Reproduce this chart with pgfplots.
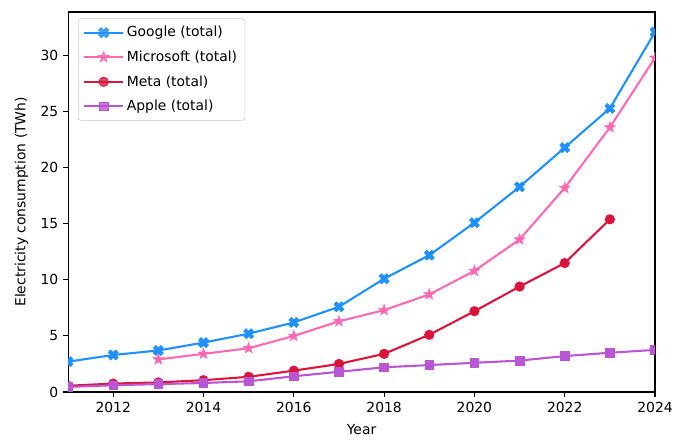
\documentclass[border=0pt]{standalone}
\usepackage{fontspec}
\setmainfont{DejaVu Sans}
\usepackage{pgfplots}
\pgfplotsset{compat=1.18}
\definecolor{cgoogle}{RGB}{30,144,255}
\definecolor{cms}{RGB}{255,105,180}
\definecolor{cmeta}{RGB}{220,20,60}
\definecolor{capple}{RGB}{186,85,211}

% filled X marker (like matplotlib 'X')
\pgfdeclareplotmark{fx}{%
  \pgftransformrotate{45}%
  \pgfpathmoveto{\pgfpoint{0.33\pgfplotmarksize}{\pgfplotmarksize}}%
  \pgfpathlineto{\pgfpoint{0.33\pgfplotmarksize}{0.33\pgfplotmarksize}}%
  \pgfpathlineto{\pgfpoint{\pgfplotmarksize}{0.33\pgfplotmarksize}}%
  \pgfpathlineto{\pgfpoint{\pgfplotmarksize}{-0.33\pgfplotmarksize}}%
  \pgfpathlineto{\pgfpoint{0.33\pgfplotmarksize}{-0.33\pgfplotmarksize}}%
  \pgfpathlineto{\pgfpoint{0.33\pgfplotmarksize}{-\pgfplotmarksize}}%
  \pgfpathlineto{\pgfpoint{-0.33\pgfplotmarksize}{-\pgfplotmarksize}}%
  \pgfpathlineto{\pgfpoint{-0.33\pgfplotmarksize}{-0.33\pgfplotmarksize}}%
  \pgfpathlineto{\pgfpoint{-\pgfplotmarksize}{-0.33\pgfplotmarksize}}%
  \pgfpathlineto{\pgfpoint{-\pgfplotmarksize}{0.33\pgfplotmarksize}}%
  \pgfpathlineto{\pgfpoint{-0.33\pgfplotmarksize}{0.33\pgfplotmarksize}}%
  \pgfpathlineto{\pgfpoint{-0.33\pgfplotmarksize}{\pgfplotmarksize}}%
  \pgfpathclose
  \pgfusepathqfillstroke}
% filled five-point star
\pgfdeclareplotmark{fstar}{%
  \pgfpathmoveto{\pgfpointpolar{90}{\pgfplotmarksize}}%
  \pgfpathlineto{\pgfpointpolar{126}{0.4\pgfplotmarksize}}%
  \pgfpathlineto{\pgfpointpolar{162}{\pgfplotmarksize}}%
  \pgfpathlineto{\pgfpointpolar{198}{0.4\pgfplotmarksize}}%
  \pgfpathlineto{\pgfpointpolar{234}{\pgfplotmarksize}}%
  \pgfpathlineto{\pgfpointpolar{270}{0.4\pgfplotmarksize}}%
  \pgfpathlineto{\pgfpointpolar{306}{\pgfplotmarksize}}%
  \pgfpathlineto{\pgfpointpolar{342}{0.4\pgfplotmarksize}}%
  \pgfpathlineto{\pgfpointpolar{18}{\pgfplotmarksize}}%
  \pgfpathlineto{\pgfpointpolar{54}{0.4\pgfplotmarksize}}%
  \pgfpathclose
  \pgfusepathqfillstroke}

\begin{document}
\begin{tikzpicture}
\begin{axis}[scale only axis, width=422.6pt, height=273.6pt,
  xmin=2011, xmax=2024, ymin=0, ymax=33.9,
  xtick={2012,2014,...,2024}, ytick={0,5,...,30},
  x tick label style={/pgf/number format/1000 sep=},
  /pgf/number format/assume math mode=true,
  tick align=outside, tick pos=left, major tick length=3.5pt,
  tick style={black, line width=0.8pt},
  axis line style={line width=0.8pt},
  xlabel={Year}, ylabel={Electricity consumption (TWh)},
  xlabel style={yshift=-2pt}, ylabel style={yshift=2pt},
  every axis plot/.append style={line width=1.5pt, mark size=3.4pt},
  clip marker paths=true,
  legend cell align=left,
  legend image code/.code={\draw[mark repeat=2,mark phase=2,#1]
    plot coordinates {(0pt,0pt) (14pt,0pt) (28pt,0pt)};},
  legend style={at={(0.017,0.983)}, anchor=north west,
    draw=black!20, rounded corners=2pt, fill=white, fill opacity=0.8,
    text opacity=1, row sep=4.6pt, inner sep=3.5pt,
    font=\fontsize{10pt}{12pt}\selectfont},
  font=\fontsize{10pt}{12pt}\selectfont]
\addplot[cgoogle, mark=fx, mark options={line width=0.5pt}, mark size=3.8pt] coordinates {
  (2011,2.7) (2012,3.3) (2013,3.7) (2014,4.4) (2015,5.2) (2016,6.2) (2017,7.6)
  (2018,10.1) (2019,12.2) (2020,15.1) (2021,18.3) (2022,21.8) (2023,25.3) (2024,32.1)};
\addlegendentry{Google (total)}
\addplot[cms, mark=fstar, mark options={line width=0.5pt}, mark size=4pt] coordinates {
  (2013,2.9) (2014,3.4) (2015,3.9) (2016,5.0) (2017,6.3) (2018,7.3) (2019,8.7)
  (2020,10.8) (2021,13.6) (2022,18.2) (2023,23.6) (2024,29.8)};
\addlegendentry{Microsoft (total)}
\addplot[cmeta, mark=*, mark options={line width=0.5pt}] coordinates {
  (2011,0.55) (2012,0.75) (2013,0.85) (2014,1.05) (2015,1.35) (2016,1.9) (2017,2.5)
  (2018,3.4) (2019,5.1) (2020,7.2) (2021,9.4) (2022,11.5) (2023,15.4)};
\addlegendentry{Meta (total)}
\addplot[capple, mark=square*, mark options={line width=0.5pt}, mark size=3.1pt] coordinates {
  (2011,0.45) (2012,0.6) (2013,0.7) (2014,0.8) (2015,0.95) (2016,1.4) (2017,1.8)
  (2018,2.2) (2019,2.4) (2020,2.6) (2021,2.8) (2022,3.2) (2023,3.5) (2024,3.75)};
\addlegendentry{Apple (total)}
\end{axis}
\pgfresetboundingbox
\path (current axis.south west) ++(-49pt,-35.3pt) coordinate (bbA);
\path (current axis.north east) ++(25.2pt,8.6pt) coordinate (bbB);
\useasboundingbox (bbA) rectangle (bbB);
\end{tikzpicture}
\end{document}
